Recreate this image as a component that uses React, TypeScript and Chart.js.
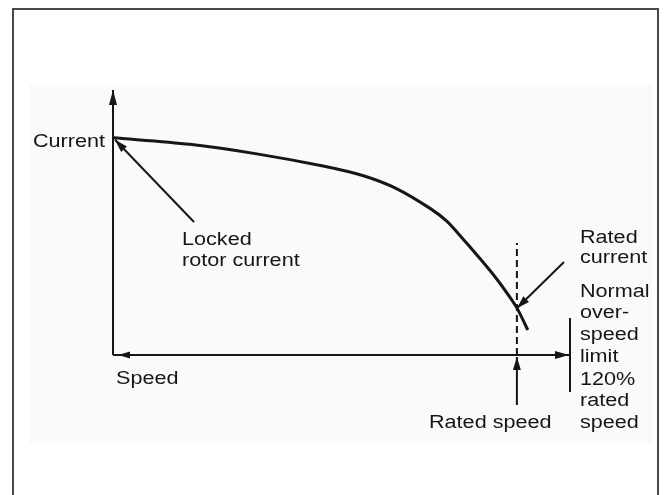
import React, { useEffect, useRef } from "react";
import { Chart, registerables } from "chart.js";

Chart.register(...registerables);

// Speed as % of rated speed, current as % of locked rotor current
const speed = [0, 19, 35.6, 52, 62, 70.3, 78.5, 82.7, 86.6, 90.8, 95, 98.3, 100.2, 102.7];
const current = [100, 97, 92.6, 87, 82.5, 76.5, 67.5, 61.5, 53.5, 44.5, 35, 26.5, 21, 11.5];

const ratedSpeed = 100;
const ratedCurrent = 21.5;
const ratedDashTop = 51.6;
const axisXMax = 112.9;
const axisYMax = 122;

const yAxisLabel = "Current";
const xAxisLabel = "Speed";
const lockedLabel = ["Locked", "rotor current"];
const ratedSpeedLabel = "Rated speed";
const rightLabels = ["Rated", "current", "Normal", "over-", "speed", "limit", "120%", "rated", "speed"];

const FONT = '18px "Liberation Sans", Arial, sans-serif';
const INK = "#161616";

function arrowHead(ctx: CanvasRenderingContext2D, fx: number, fy: number, tx: number, ty: number, len: number, hw: number) {
  const a = Math.atan2(ty - fy, tx - fx);
  const bx = tx - Math.cos(a) * len;
  const by = ty - Math.sin(a) * len;
  const nx = -Math.sin(a) * hw;
  const ny = Math.cos(a) * hw;
  ctx.beginPath();
  ctx.moveTo(tx, ty);
  ctx.lineTo(bx + nx, by + ny);
  ctx.lineTo(bx - nx, by - ny);
  ctx.closePath();
  ctx.fill();
}

function arrow(ctx: CanvasRenderingContext2D, fx: number, fy: number, tx: number, ty: number, len: number, hw: number, lw: number) {
  ctx.lineWidth = lw;
  ctx.beginPath();
  ctx.moveTo(fx, fy);
  ctx.lineTo(tx, ty);
  ctx.stroke();
  arrowHead(ctx, fx, fy, tx, ty, len, hw);
}

function txt(ctx: CanvasRenderingContext2D, s: string, x: number, y: number, align: CanvasTextAlign) {
  ctx.save();
  ctx.translate(x, y);
  ctx.scale(1.2, 1);
  ctx.textAlign = align;
  ctx.textBaseline = "alphabetic";
  ctx.fillText(s, 0, 0);
  ctx.restore();
}

const diagramPlugin = {
  id: "diagram",
  beforeDraw(chart: any) {
    const ctx = chart.ctx as CanvasRenderingContext2D;
    ctx.save();
    ctx.fillStyle = "#ffffff";
    ctx.fillRect(0, 0, chart.width, chart.height);
    ctx.fillStyle = "#fafafa";
    ctx.fillRect(29, 85, 623, 358);
    ctx.strokeStyle = "#4a4a4a";
    ctx.lineWidth = 2;
    ctx.strokeRect(13, 9, 645, 500);
    ctx.restore();
  },
  afterDraw(chart: any) {
    const ctx = chart.ctx as CanvasRenderingContext2D;
    const xs = chart.scales.x;
    const ys = chart.scales.y;
    const px = (v: number) => xs.getPixelForValue(v);
    const py = (v: number) => ys.getPixelForValue(v);
    const ox = px(0);
    const oy = py(0);
    ctx.save();
    ctx.strokeStyle = INK;
    ctx.fillStyle = INK;
    ctx.lineCap = "butt";

    // y axis with arrow
    arrow(ctx, ox, oy, ox, py(axisYMax), 15, 4, 2);
    // x axis with arrow
    arrow(ctx, ox, oy, px(axisXMax), oy, 14, 4, 2);
    // small left arrowhead at origin
    arrowHead(ctx, ox + 18, oy, ox + 5, oy, 12, 3.5);

    // overspeed limit bar
    ctx.lineWidth = 2;
    ctx.beginPath();
    ctx.moveTo(px(axisXMax) + 1, oy - 37);
    ctx.lineTo(px(axisXMax) + 1, oy + 37);
    ctx.stroke();

    // rated speed arrow from below
    const rx = px(ratedSpeed);
    arrow(ctx, rx, oy + 50, rx, oy + 2, 13, 4, 2);

    // rated current arrow
    arrow(ctx, 564, 262, rx, py(ratedCurrent), 13, 4, 2);

    // locked rotor current arrow
    arrow(ctx, 194, 222, ox + 2, py(100) + 2, 13, 4, 2);

    // texts
    ctx.font = FONT;
    txt(ctx, yAxisLabel, ox - 8, py(100) + 9, "right");
    txt(ctx, xAxisLabel, ox + 3, oy + 29, "left");
    txt(ctx, lockedLabel[0], 182, 245, "left");
    txt(ctx, lockedLabel[1], 182, 266, "left");
    txt(ctx, ratedSpeedLabel, 429, 428, "left");
    const baselines = [243, 263, 297, 318, 340, 362, 385, 406, 428];
    rightLabels.forEach((s, i) => txt(ctx, s, 580, baselines[i], "left"));
    ctx.restore();
  },
};

export default function App() {
  const ref = useRef<HTMLCanvasElement | null>(null);
  useEffect(() => {
    if (!ref.current) return;
    const chart = new Chart(ref.current, {
      type: "line",
      data: {
        datasets: [
          {
            label: "Current",
            data: speed.map((s, i) => ({ x: s, y: current[i] })),
            borderColor: INK,
            borderWidth: 3,
            pointRadius: 0,
            tension: 0.3,
            fill: false,
            clip: false,
          } as any,
          {
            label: "Rated speed",
            data: [
              { x: ratedSpeed, y: 0 },
              { x: ratedSpeed, y: ratedDashTop },
            ],
            borderColor: INK,
            borderWidth: 2,
            borderDash: [7, 4],
            pointRadius: 0,
            fill: false,
            clip: false,
          } as any,
        ],
      },
      options: {
        animation: false,
        responsive: false,
        devicePixelRatio: 1,
        layout: { padding: { left: 113, top: 90, right: 96, bottom: 140 } },
        plugins: { legend: { display: false }, tooltip: { enabled: false }, title: { display: false } },
        scales: {
          x: { type: "linear", min: 0, max: axisXMax, display: false },
          y: { type: "linear", min: 0, max: axisYMax, display: false },
        },
      },
      plugins: [diagramPlugin],
    });
    return () => chart.destroy();
  }, []);
  return (
    <div style={{ position: "fixed", left: 0, top: 0, width: 665, height: 495, background: "#fff" }}>
      <canvas ref={ref} width={665} height={495} style={{ display: "block" }} />
    </div>
  );
}
